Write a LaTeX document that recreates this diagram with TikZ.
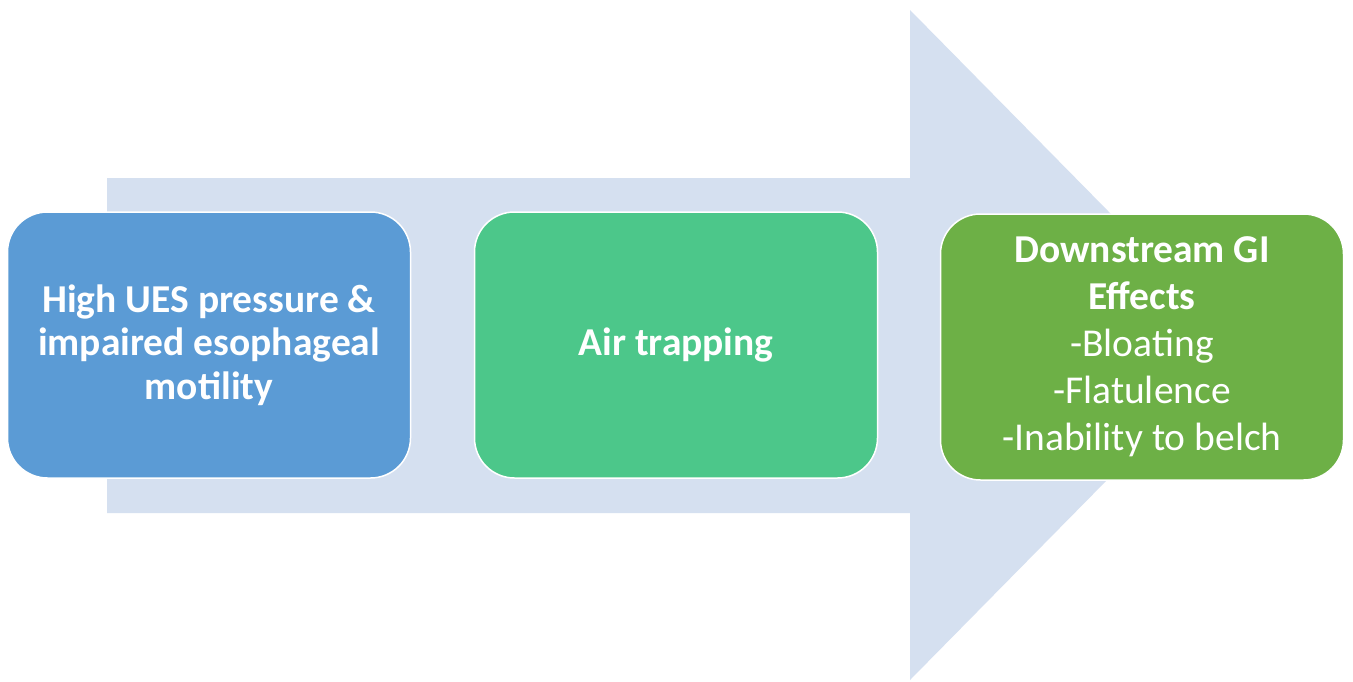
\documentclass[tikz,border=0pt]{standalone}
\usepackage{fontspec}
\setmainfont{Carlito}
\definecolor{arrowc}{HTML}{D5E0F0}
\definecolor{boxa}{HTML}{5B9BD5}
\definecolor{boxb}{HTML}{4CC78A}
\definecolor{boxc}{HTML}{6DB046}
\tikzset{
  stagebox/.style={rounded corners=40pt, draw=white, line width=1.5pt, minimum width=403pt, minimum height=266pt, text=white, align=center, font=\fontsize{39.5}{43.5}\selectfont, inner sep=0pt},
}
\begin{document}
\begin{tikzpicture}[x=1pt,y=-1pt]
\useasboundingbox (0,0) rectangle (1353,681);
\fill[white] (0,0) rectangle (1353,681);
\fill[arrowc] (107,178) -- (910,178) -- (910,10) -- (1240,345) -- (910,680) -- (910,513) -- (107,513) -- cycle;
\node[stagebox, fill=boxa] (a) at (209,345) {\bfseries High UES pressure \&\\\bfseries impaired esophageal\\\bfseries motility};
\node[stagebox, fill=boxb] (b) at (676,345) {\bfseries Air trapping};
\node[stagebox, fill=boxc, font=\fontsize{39.5}{47}\selectfont] (c) at (1142,347) {\bfseries Downstream GI\\\bfseries Effects\\-Bloating\\-Flatulence\\-Inability to belch};
\end{tikzpicture}
\end{document}
